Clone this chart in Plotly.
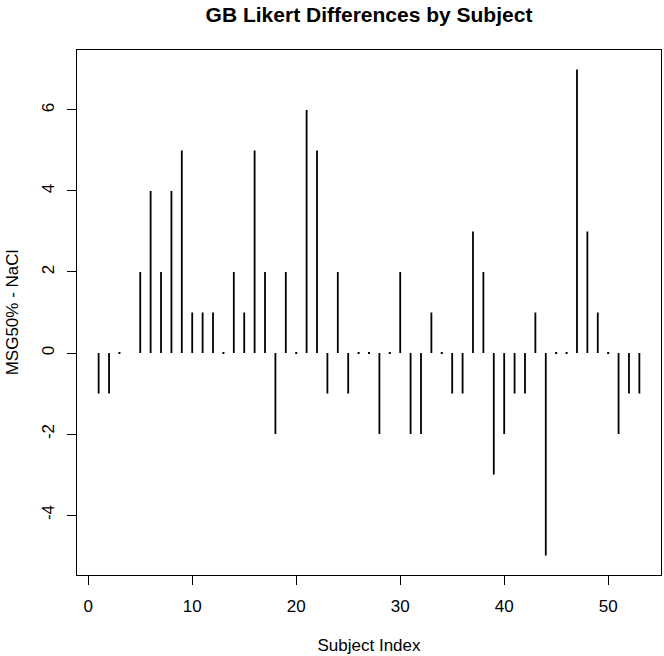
import plotly.graph_objects as go

# Data: difference (MSG50% - NaCl) per subject; None = missing
subjects = list(range(1, 54))
diffs = [-1, -1, 0, None, 2, 4, 2, 4, 5, 1,
         1, 1, 0, 2, 1, 5, 2, -2, 2, 0,
         6, 5, -1, 2, -1, 0, 0, -2, 0, 2,
         -2, -2, 1, 0, -1, -1, 3, 2, -3, -2,
         -1, -1, 1, -5, 0, 0, 7, 3, 1, 0,
         -2, -1, -1]
x_ticks = [0, 10, 20, 30, 40, 50]
y_ticks = [-4, -2, 0, 2, 4, 6]
y_tick_text = ["-4", "-2", "0", "2", "4", "6"]

# Build vertical segment paths (type="h" style)
seg_x, seg_y = [], []
zero_x, zero_y = [], []
for s, d in zip(subjects, diffs):
    if d is None:
        continue
    if d == 0:
        zero_x.append(s)
        zero_y.append(d)
    seg_x += [s, s, None]
    seg_y += [0, d, None]

fig = go.Figure()
fig.add_trace(go.Scatter(x=seg_x, y=seg_y, mode="lines",
                         line=dict(color="black", width=1.8),
                         hoverinfo="skip", showlegend=False))
fig.add_trace(go.Scatter(x=zero_x, y=zero_y, mode="markers",
                         marker=dict(color="black", size=2, symbol="square"),
                         hoverinfo="skip", showlegend=False))

font_family = "Liberation Sans, Arial, Helvetica, sans-serif"
fig.update_layout(
    width=664, height=656,
    margin=dict(l=77, r=3, t=50, b=81),
    paper_bgcolor="white", plot_bgcolor="white",
    font=dict(family=font_family, size=17, color="black"),
    title=dict(text="<b>GB Likert Differences by Subject</b>",
               x=(77 + 661) / 2 / 664, xanchor="center",
               y=1 - 15 / 656, yanchor="middle",
               font=dict(size=21, family=font_family, color="black")),
    showlegend=False,
)
fig.update_xaxes(
    range=[-1.08, 55.08], tickmode="array", tickvals=x_ticks,
    ticks="outside", ticklen=9, tickwidth=1, tickcolor="black",
    ticklabelstandoff=6,
    showline=True, linecolor="black", linewidth=1.2, mirror=True,
    showgrid=False, zeroline=False,
    title=dict(text="Subject Index", standoff=24, font=dict(size=17)),
    automargin=False,
)
fig.update_yaxes(
    range=[-5.48, 7.48], tickmode="array", tickvals=y_ticks, ticktext=y_tick_text,
    tickangle=-90,
    ticks="outside", ticklen=9, tickwidth=1, tickcolor="black",
    ticklabelstandoff=6,
    showline=True, linecolor="black", linewidth=1.2, mirror=True,
    showgrid=False, zeroline=False,
    title=dict(text="MSG50% - NaCl", standoff=16, font=dict(size=17)),
    automargin=False,
)

fig.write_html("out.html")
